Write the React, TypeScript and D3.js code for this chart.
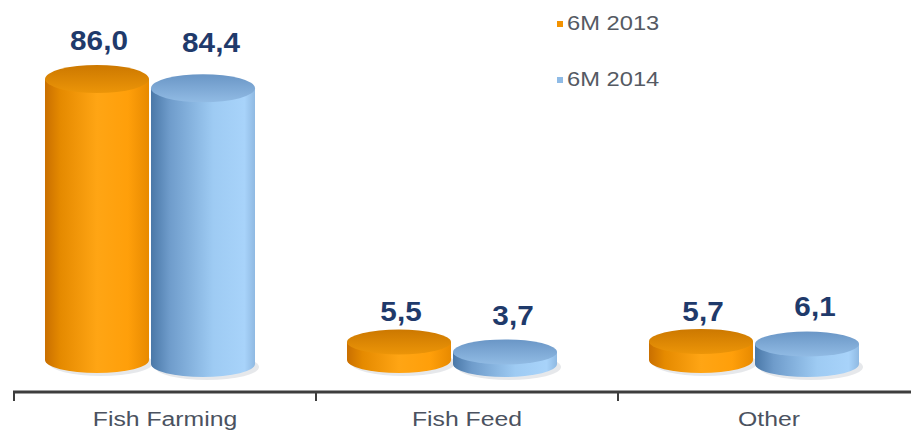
import React from "react";
import * as d3 from "d3";

const categories = ["Fish Farming", "Fish Feed", "Other"];
const series2013 = [86.0, 5.5, 5.7];
const series2014 = [84.4, 3.7, 6.1];
const seriesNames = ["6M 2013", "6M 2014"];
const valueLabels2013 = ["86,0", "5,5", "5,7"];
const valueLabels2014 = ["84,4", "3,7", "6,1"];

const W = 911;
const H = 433;

export default function App() {
  const x = d3.scaleBand<string>().domain(categories).range([14, 920]).padding(0);
  const y = d3.scaleLinear().domain([0, 86]).range([360, 79]);
  const yLabel = d3.scaleLinear().domain([0, 86]).range([340, 50]);
  const rx = 52;
  const ry = 13;
  const FONT = "'Liberation Sans', Arial, sans-serif";

  const series = [
    { key: "b", vals: series2014, labels: valueLabels2014, dx: 38, dy: 4, side: "gBlue", top: "gBlueTop", labelDx: 8, labelDy: -3 },
    { key: "o", vals: series2013, labels: valueLabels2013, dx: -68, dy: 0, side: "gOrange", top: "gOrangeTop", labelDx: 2, labelDy: 0 },
  ];

  const cyl = (cx: number, yTop: number, yBot: number, r: number) =>
    `M${cx - rx},${yTop} L${cx - rx},${yBot} A${rx},${r} 0 0 0 ${cx + rx},${yBot} L${cx + rx},${yTop} Z`;

  const stretched = (tx: number, ty: number, sx: number, content: string, props: any) => (
    <text transform={`translate(${tx},${ty}) scale(${sx},1)`} x={0} y={0} {...props}>
      {content}
    </text>
  );

  const ticks = [0, 1, 2, 3].map((i) => 14 + i * x.bandwidth());

  return (
    <svg width={W} height={H} style={{ position: "absolute", left: 0, top: 0, background: "#fff" }}>
      <defs>
        <linearGradient id="gOrange" x1="0" x2="1" y1="0" y2="0">
          <stop offset="0" stopColor="#c96f00" />
          <stop offset="0.15" stopColor="#e58a00" />
          <stop offset="0.5" stopColor="#ffa514" />
          <stop offset="0.8" stopColor="#ff9f0a" />
          <stop offset="1" stopColor="#e88a00" />
        </linearGradient>
        <linearGradient id="gOrangeTop" x1="0" x2="0" y1="0" y2="1">
          <stop offset="0" stopColor="#cc7800" />
          <stop offset="1" stopColor="#ec9508" />
        </linearGradient>
        <linearGradient id="gBlue" x1="0" x2="1" y1="0" y2="0">
          <stop offset="0" stopColor="#4a78a8" />
          <stop offset="0.18" stopColor="#6f9ccb" />
          <stop offset="0.6" stopColor="#9ecbf3" />
          <stop offset="0.9" stopColor="#a8d3fa" />
          <stop offset="1" stopColor="#8fb9e2" />
        </linearGradient>
        <linearGradient id="gBlueTop" x1="0" x2="0" y1="0" y2="1">
          <stop offset="0" stopColor="#6a96c6" />
          <stop offset="1" stopColor="#91bbe4" />
        </linearGradient>
      </defs>

      {series.map((s) =>
        categories.map((c, i) => {
          const cx = (x(c) as number) + x.bandwidth() / 2 + s.dx;
          return (
            <ellipse key={`sh${s.key}${i}`} cx={cx + 4} cy={y(0) + s.dy + 3} rx={rx} ry={ry} fill="#b8bec6" opacity={0.35} />
          );
        })
      )}

      {series.map((s) =>
        categories.map((c, i) => {
          const cx = (x(c) as number) + x.bandwidth() / 2 + s.dx;
          const yTop = y(s.vals[i]) + s.dy;
          const yBot = y(0) + s.dy;
          const rTop = s.vals[i] > 50 ? 14 : 12.5;
          return (
            <g key={`c${s.key}${i}`}>
              <path d={cyl(cx, yTop, yBot, ry)} fill={`url(#${s.side})`} />
              <ellipse cx={cx} cy={yTop} rx={rx} ry={rTop} fill={`url(#${s.top})`} />
            </g>
          );
        })
      )}

      {series.map((s) =>
        categories.map((c, i) => {
          const cx = (x(c) as number) + x.bandwidth() / 2 + s.dx + s.labelDx;
          return stretched(cx, yLabel(s.vals[i]) + s.labelDy, 1.1, s.labels[i], {
            key: `l${s.key}${i}`,
            textAnchor: "middle",
            fontFamily: FONT,
            fontWeight: "bold",
            fontSize: 27,
            fill: "#1f3a6b",
          });
        })
      )}

      <line x1={13} x2={W} y1={392} y2={392} stroke="#3d3d3d" strokeWidth={3} />
      {ticks.map((t, i) => (
        <line key={`t${i}`} x1={t} x2={t} y1={392} y2={401} stroke="#3d3d3d" strokeWidth={2} />
      ))}
      {categories.map((c, i) =>
        stretched((x(c) as number) + x.bandwidth() / 2, 426, 1.18, c, {
          key: `a${i}`,
          textAnchor: "middle",
          fontFamily: FONT,
          fontSize: 21,
          fill: "#4b5260",
        })
      )}

      {seriesNames.map((n, i) => (
        <g key={`lg${i}`}>
          <rect x={557} y={21 + i * 56} width={6} height={6} fill={i === 0 ? "#f39200" : "#8fbbe6"} />
          {stretched(567, 30 + i * 56, 1.13, n, {
            fontFamily: FONT,
            fontSize: 21,
            fill: "#555a63",
          })}
        </g>
      ))}
    </svg>
  );
}
